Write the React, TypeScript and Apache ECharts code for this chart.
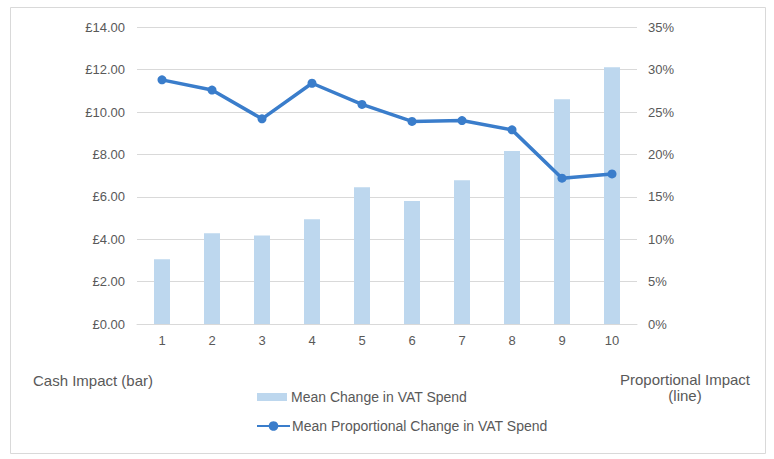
import React, { useEffect, useRef } from "react";
import * as echarts from "echarts";

const categories = ["1", "2", "3", "4", "5", "6", "7", "8", "9", "10"];
const cashValues = [3.05, 4.28, 4.18, 4.94, 6.45, 5.8, 6.78, 8.16, 10.6, 12.11];
const propValues = [0.288, 0.276, 0.242, 0.284, 0.259, 0.239, 0.24, 0.229, 0.172, 0.177];
const barName = "Mean Change in VAT Spend";
const lineName = "Mean Proportional Change in VAT Spend";
const leftTitle = "Cash Impact (bar)";
const rightTitle = "Proportional Impact\n(line)";

const FONT = "'Liberation Sans', Arial, sans-serif";
const TEXT = "#595959";
const BAR = "#BDD7EE";
const LINE = "#3A7DCB";

export default function App() {
  const ref = useRef<HTMLDivElement>(null);
  useEffect(() => {
    if (!ref.current) return;
    const chart = echarts.init(ref.current, undefined, { renderer: "svg" });
    chart.setOption({
      animation: false,
      backgroundColor: "#ffffff",
      textStyle: { fontFamily: FONT },
      grid: { left: 137, right: 137, top: 27.3, bottom: 135, containLabel: false },
      legend: [
        {
          data: [barName],
          left: 252,
          top: 385,
          itemWidth: 30,
          itemHeight: 8,
          icon: "rect",
          textStyle: { color: TEXT, fontSize: 14, fontFamily: FONT, padding: [0, 0, 0, -1] },
        },
        {
          data: [lineName],
          left: 251,
          top: 414,
          itemWidth: 33,
          itemHeight: 12,
          textStyle: { color: TEXT, fontSize: 14, fontFamily: FONT, padding: [0, 0, 0, -3] },
        },
      ],
      xAxis: {
        type: "category",
        data: categories,
        axisLine: { show: true, lineStyle: { color: "#d9d9d9" } },
        axisTick: { show: false },
        axisLabel: { color: TEXT, fontSize: 13, fontFamily: FONT, margin: 10 },
      },
      yAxis: [
        {
          type: "value",
          min: 0,
          max: 14,
          interval: 2,
          axisLine: { show: false },
          axisTick: { show: false },
          splitLine: { lineStyle: { color: "#d9d9d9" } },
          axisLabel: {
            color: TEXT,
            fontSize: 13,
            fontFamily: FONT,
            margin: 12,
            formatter: (v: number) => "£" + v.toFixed(2),
          },
        },
        {
          type: "value",
          min: 0,
          max: 0.35,
          interval: 0.05,
          axisLine: { show: false },
          axisTick: { show: false },
          splitLine: { show: false },
          axisLabel: {
            color: TEXT,
            fontSize: 13,
            fontFamily: FONT,
            margin: 11,
            formatter: (v: number) => Math.round(v * 100) + "%",
          },
        },
      ],
      series: [
        {
          name: barName,
          type: "bar",
          data: cashValues,
          yAxisIndex: 0,
          barWidth: 16,
          itemStyle: { color: BAR },
        },
        {
          name: lineName,
          type: "line",
          data: propValues,
          yAxisIndex: 1,
          symbol: "circle",
          symbolSize: 9,
          lineStyle: { color: LINE, width: 3.5 },
          itemStyle: { color: LINE },
        },
      ],
      graphic: [
        {
          type: "rect",
          shape: { x: 10.5, y: 7.5, width: 755, height: 446 },
          style: { fill: "none", stroke: "#d9d9d9", lineWidth: 1 },
          silent: true,
        },
        {
          type: "text",
          x: 33,
          y: 380,
          style: {
            text: leftTitle,
            fill: TEXT,
            font: `15px ${FONT}`,
            textVerticalAlign: "middle",
          },
        },
        {
          type: "text",
          x: 685,
          y: 371,
          style: {
            text: rightTitle,
            fill: TEXT,
            font: `15px ${FONT}`,
            textAlign: "center",
            lineHeight: 16,
          },
        },
      ],
    });
    return () => chart.dispose();
  }, []);
  return (
    <div
      ref={ref}
      style={{ position: "fixed", left: 0, top: 0, width: 774, height: 459 }}
    />
  );
}
